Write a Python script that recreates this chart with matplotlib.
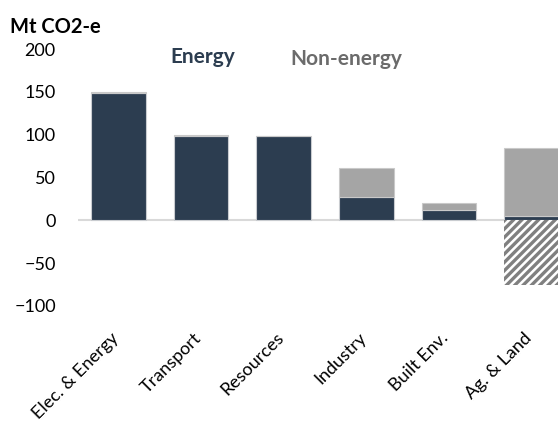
import numpy as np
import matplotlib.pyplot as plt
from matplotlib.transforms import ScaledTranslation

plt.rcParams['font.family'] = ['Lato', 'DejaVu Sans']
plt.rcParams['hatch.linewidth'] = 2.4

# Emissions by sector, Mt CO2-e
categories = ['Elec. & Energy', 'Transport', 'Resources', 'Industry', 'Built Env.', 'Ag. & Land']
energy = [149, 98, 98, 27, 12, 5]
non_energy = [0.6, 1.5, 0, 34, 8, 80]
land_sink = [0, 0, 0, 0, 0, -76]

navy = '#2c3d50'
grey = '#a5a5a5'

x = np.arange(len(categories))
w = 0.66

fig = plt.figure(figsize=(5.58, 4.30), dpi=100)
ax = fig.add_axes([78 / 558, 1 - 306 / 430, 480 / 558, (306 - 49) / 430])

ax.bar(x, energy, w, color=navy, edgecolor='#c9ccd0', linewidth=0.8, zorder=2)
ax.bar(x, non_energy, w, bottom=energy, color=grey, edgecolor='#c9c9c9',
       linewidth=0.8, zorder=2)
ax.bar(x, land_sink, w, color='white', edgecolor='#808080', linewidth=0,
       hatch='////', zorder=2)

ax.axhline(0, color='#d9d9d9', linewidth=1.5, zorder=1)

ax.set_xlim(-0.49, 5.32)
ax.set_ylim(-100, 200)
ax.set_yticks(np.arange(-100, 201, 50))
ax.tick_params(axis='y', length=0, pad=16, labelsize=13)
ax.tick_params(axis='x', length=0, pad=21, labelsize=13)
ax.set_xticks(x)
ax.set_xticklabels(categories, rotation=45, ha='right', va='center',
                   rotation_mode='anchor')
shift = ScaledTranslation(-2 / 72, 0, fig.dpi_scale_trans)
for lbl in ax.get_xticklabels():
    lbl.set_transform(lbl.get_transform() + shift)
for s in ax.spines.values():
    s.set_visible(False)

fig.text(10 / 558, 1 - 27 / 430, 'Mt CO2-e', fontsize=14.5, fontweight='bold',
         va='center', ha='left')
fig.text(170 / 558, 1 - 57 / 430, 'Energy', fontsize=15, fontweight='bold',
         color=navy, va='center', ha='left')
fig.text(290 / 558, 1 - 59 / 430, 'Non-energy', fontsize=15, fontweight='bold',
         color='#6b6b6b', va='center', ha='left')

fig.savefig('out.png', dpi=100)
